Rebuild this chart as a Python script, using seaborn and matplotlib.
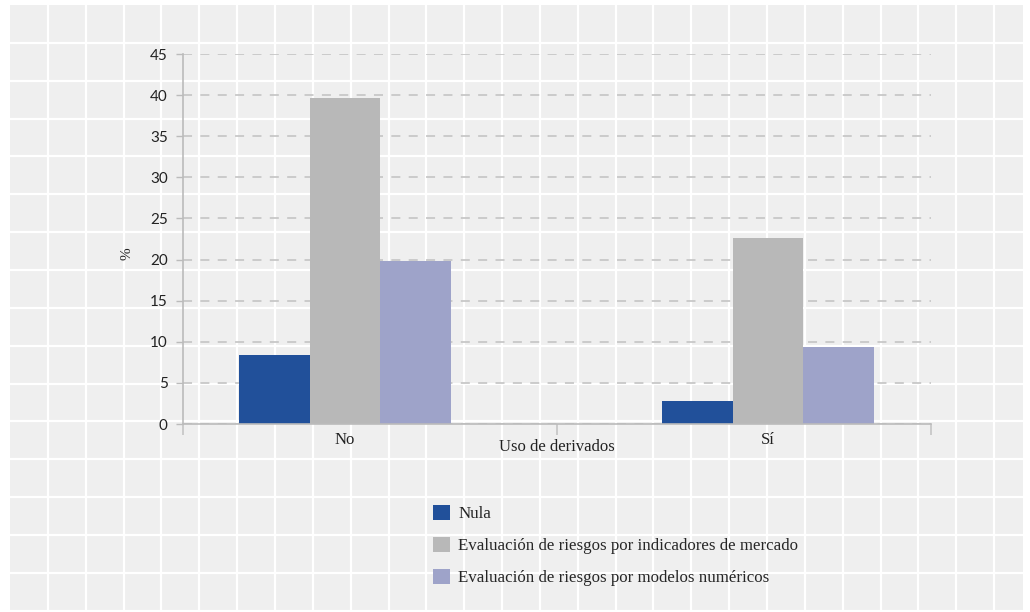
import matplotlib
matplotlib.use("Agg")
import matplotlib.pyplot as plt
import seaborn as sns
import pandas as pd
import numpy as np

# Data
categories = ["No", "Sí"]
series_names = [
    "Nula",
    "Evaluación de riesgos por indicadores de mercado",
    "Evaluación de riesgos por modelos numéricos",
]
nula = [8.4, 2.8]
indicadores = [39.6, 22.6]
modelos = [19.8, 9.4]
y_ticks = [0, 5, 10, 15, 20, 25, 30, 35, 40, 45]
x_title = "Uso de derivados"
y_title = "%"

colors = ["#21509a", "#b8b8b8", "#9ea3c9"]

df = pd.DataFrame({
    "cat": categories * 3,
    "serie": [series_names[0]] * 2 + [series_names[1]] * 2 + [series_names[2]] * 2,
    "valor": nula + indicadores + modelos,
})

sns.set_theme(style="white")
plt.rcParams["font.family"] = ["Liberation Serif", "DejaVu Serif"]
plt.rcParams["lines.scale_dashes"] = False

W, H = 1030, 612
fig = plt.figure(figsize=(W / 100, H / 100), dpi=100, facecolor="white")

# Backdrop: light grey panel with a white square grid
bg = fig.add_axes([0, 0, 1, 1], zorder=0)
bg.set_xlim(0, W)
bg.set_ylim(H, 0)
bg.axis("off")
x0, y0, x1, y1 = 10, 5, 1023, 611
bg.add_patch(plt.Rectangle((x0, y0), x1 - x0, y1 - y0, color="#efefef", lw=0))
step = 37.85
for gx in np.arange(x0 + step, x1, step):
    bg.plot([gx, gx], [y0, y1], color="white", lw=1.6, solid_capstyle="butt")
for gy in np.arange(y0 + step, y1, step):
    bg.plot([x0, x1], [gy, gy], color="white", lw=1.6, solid_capstyle="butt")

# Main plot area
ax_left, ax_right, ax_top, ax_bottom = 183, 931, 54, 424
ax = fig.add_axes([ax_left / W, 1 - ax_bottom / H, (ax_right - ax_left) / W,
                   (ax_bottom - ax_top) / H], zorder=1)
ax.patch.set_alpha(0)

sns.barplot(data=df, x="cat", y="valor", hue="serie", hue_order=series_names,
            palette=colors, saturation=1, width=0.5, ax=ax, legend=True,
            linewidth=0, edgecolor="none")

ax.set_ylim(0, 45)
ax.set_xlim(-0.383, 1.385)
ax.set_yticks(y_ticks)
ax.set_yticklabels([str(t) for t in y_ticks], fontfamily="Lato", fontsize=11, color="#222222")
ax.set_xticks([0, 1])
ax.set_xticklabels(categories, fontsize=12, color="#222222")
ax.tick_params(axis="x", length=0, pad=6)
ax.tick_params(axis="y", length=5, width=1, color="#bbbbbb", pad=6, left=True)
ax.set_xticks([-0.383, 0.5, 1.385], minor=True)
ax.tick_params(axis="x", which="minor", length=8, width=1.2, color="#c4c4c4", bottom=True)
ax.set_xlabel(x_title, fontsize=12, color="#222222")
ax.xaxis.set_label_coords(0.5, -23 / (ax_bottom - ax_top))
ax.xaxis.label.set_va("center")
ax.set_ylabel("")
fig.text(127 / W, 1 - 254 / H, y_title, rotation=90, fontsize=11,
         ha="center", va="center", color="#222222")

for side in ["top", "right"]:
    ax.spines[side].set_visible(False)
for side in ["left", "bottom"]:
    ax.spines[side].set_color("#bbbbbb")
    ax.spines[side].set_linewidth(1.2)

ax.yaxis.grid(True, color="#c8c8c8", lw=1.3, linestyle=(0, (6.5, 6.0)))
ax.set_axisbelow(True)

handles, labels = ax.get_legend_handles_labels()
ax.get_legend().remove()
fig.legend(handles, labels, loc="upper left",
           bbox_to_anchor=(433 / W, 1 - 505 / H), frameon=False,
           fontsize=12.2, handlelength=1.0, handleheight=1.0,
           handletextpad=0.5, labelspacing=0.86, borderpad=0, borderaxespad=0)

fig.savefig("out.png", dpi=100, facecolor="white")
